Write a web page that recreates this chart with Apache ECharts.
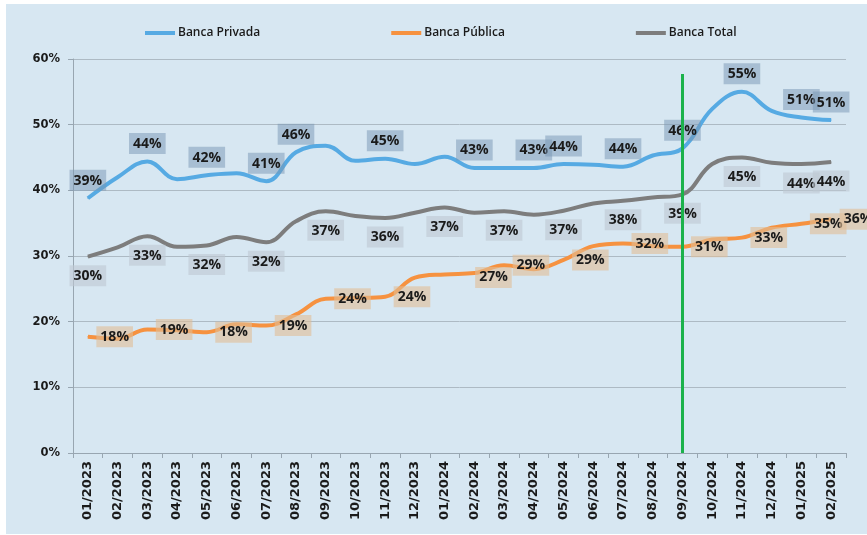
<!DOCTYPE html>
<html><head><meta charset="utf-8">
<script src="https://cdn.jsdelivr.net/npm/echarts@6/dist/echarts.min.js"></script>
<style>html,body{margin:0;padding:0;background:#fff}#c{width:867px;height:535px}</style>
</head><body><div id="c"></div>
<script>
const categories = ['01/2023','02/2023','03/2023','04/2023','05/2023','06/2023','07/2023','08/2023','09/2023','10/2023','11/2023','12/2023',
  '01/2024','02/2024','03/2024','04/2024','05/2024','06/2024','07/2024','08/2024','09/2024','10/2024','11/2024','12/2024','01/2025','02/2025'];
const seriesNames = ['Banca Privada', 'Banca Pública', 'Banca Total'];
const privada = [38.8,42.0,44.4,41.7,42.3,42.6,41.4,45.8,46.8,44.5,44.8,44.0,45.1,43.4,43.4,43.4,44.0,43.9,43.6,45.3,46.4,52.4,55.0,52.1,51.1,50.7];
const publica = [17.7,17.4,18.8,18.7,18.4,19.6,19.4,21.1,23.5,23.6,23.8,26.7,27.2,27.4,28.6,28.0,29.4,31.5,31.9,31.5,31.4,32.5,32.8,34.3,34.9,35.6];
const total   = [29.9,31.3,33.0,31.4,31.6,32.9,32.1,35.3,36.8,36.1,35.8,36.6,37.4,36.6,36.8,36.3,36.9,38.0,38.4,38.9,39.4,44.0,45.0,44.2,44.0,44.3];
const privadaLabelIdx = [0,2,4,6,7,10,13,15,16,18,20,22,24,25];
const publicaLabelIdx = [0,2,4,6,8,10,12,14,16,18,20,22,24,25];
const totalLabelIdx   = [0,2,4,6,8,10,12,14,16,18,20,22,24,25];
const yMin = 0, yMax = 60, yStep = 10;
const markerCategory = '09/2024';
const markerTop = 57.7;

const chart = echarts.init(document.getElementById('c'), null, {renderer: 'canvas'});
const fmt = p => Math.round(p.value) + '%';
function build(values, idx) {
  return values.map((v, i) => ({value: v, label: {show: idx.includes(i)}}));
}
const labelFont = {fontFamily: 'Open Sans', fontWeight: 'bold', fontSize: 14, color: '#1a1a1a', padding: [4, 4, 3, 4]};
const common = {type: 'line', smooth: 0.4, showSymbol: true, symbol: 'circle', symbolSize: 1, z: 3,
  emphasis: {disabled: true}};

chart.setOption({
  backgroundColor: '#ffffff',
  animation: false,
  graphic: [{type: 'rect', shape: {x: 6, y: 4, width: 861, height: 530}, style: {fill: '#d7e7f2'}, z: -10, silent: true}],
  legend: {
    data: seriesNames, top: 22, left: 140, itemGap: 131, itemWidth: 30, itemHeight: 4, icon: 'rect',
    textStyle: {fontFamily: 'Open Sans', fontWeight: 600, fontSize: 12, color: '#1a1a1a', padding: [0,0,0,-2]}
  },
  grid: {left: 73, right: 21, top: 59, bottom: 82, containLabel: false, outerBoundsMode: 'none'},
  xAxis: {
    type: 'category', data: categories, boundaryGap: true,
    axisLine: {lineStyle: {color: '#98a6b1', width: 1}},
    axisTick: {show: true, length: 5, lineStyle: {color: '#98a6b1'}},
    axisLabel: {rotate: 90, interval: 0, margin: 8, fontFamily: 'DejaVu Sans', fontWeight: 'bold', fontSize: 13, color: '#1a1a1a'}
  },
  yAxis: {
    type: 'value', min: yMin, max: yMax, interval: yStep,
    axisLine: {show: true, lineStyle: {color: '#98a6b1'}},
    axisTick: {show: true, length: 5, lineStyle: {color: '#98a6b1'}},
    splitLine: {lineStyle: {color: '#adbac4', width: 1}},
    axisLabel: {formatter: '{value}%', margin: 13, fontFamily: 'DejaVu Sans', fontWeight: 'bold', fontSize: 11.5, color: '#1a1a1a'}
  },
  series: [
    Object.assign({}, common, {
      name: seriesNames[0],
      lineStyle: {color: '#56aae3', width: 4}, itemStyle: {color: '#56aae3'},
      label: Object.assign({position: 'top', distance: 7, formatter: fmt, backgroundColor: 'rgba(120,150,180,0.5)'}, labelFont),
      data: build(privada, privadaLabelIdx)
    }),
    Object.assign({}, common, {
      name: seriesNames[1],
      lineStyle: {color: '#f69240', width: 4}, itemStyle: {color: '#f69240'},
      label: Object.assign({position: 'right', distance: 8, formatter: fmt, backgroundColor: 'rgba(225,190,150,0.6)'}, labelFont),
      labelLayout: function (p) { return p.dataIndex === 12 ? {dx: 22, dy: 3} : {}; },
      data: build(publica, publicaLabelIdx)
    }),
    Object.assign({}, common, {
      name: seriesNames[2],
      lineStyle: {color: '#7d7d7d', width: 4}, itemStyle: {color: '#7d7d7d'},
      label: Object.assign({position: 'bottom', distance: 8, formatter: fmt, backgroundColor: 'rgba(190,200,210,0.6)'}, labelFont),
      data: build(total, totalLabelIdx),
      markLine: {
        silent: true, symbol: 'none', label: {show: false},
        lineStyle: {color: '#1bb24b', width: 3, type: 'solid'},
        data: [[{coord: [markerCategory, yMin]}, {coord: [markerCategory, markerTop]}]]
      }
    })
  ]
});
</script></body></html>
